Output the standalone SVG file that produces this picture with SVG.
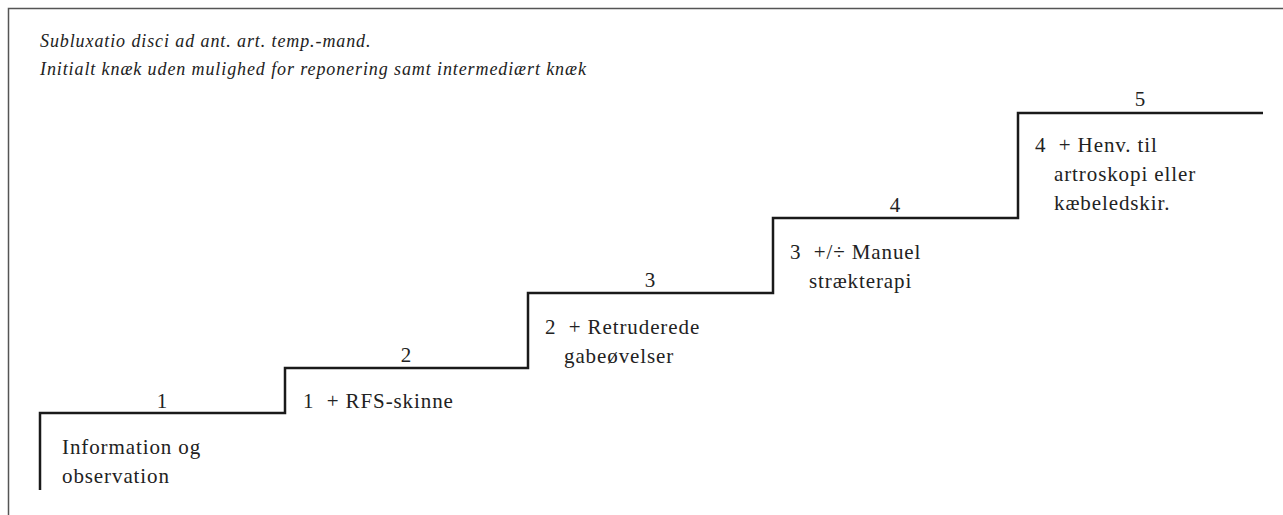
<svg xmlns="http://www.w3.org/2000/svg" width="1283" height="515" viewBox="0 0 1283 515">
<style>
.t{font-family:"Liberation Serif","Times New Roman",serif;font-size:21px;fill:#222;letter-spacing:0.9px;white-space:pre}
.h{font-family:"Liberation Serif","Times New Roman",serif;font-size:18px;font-style:italic;fill:#222;letter-spacing:0.9px}
.n{text-anchor:middle;letter-spacing:0}
.stair{fill:none;stroke:#1a1a1a;stroke-width:2.5}
.frame{fill:none;stroke:#555;stroke-width:1.5}
</style>
<rect width="1283" height="515" fill="#fff"/>
<path class="frame" d="M8.5 515 V8.5 H1283"/>
<g id="header">
<text class="h" x="40" y="47">Subluxatio disci ad ant. art. temp.-mand.</text>
<text class="h" x="40" y="75">Initialt knæk uden mulighed for reponering samt intermediært knæk</text>
</g>
<g id="connectors">
<path class="stair" d="M40 490 V413 H285 V368 H528 V293 H773 V218 H1018 V113 H1263"/>
</g>
<g id="step1">
<text class="t n" x="162" y="408">1</text>
<text class="t" x="62" y="454">Information og</text>
<text class="t" x="62" y="483">observation</text>
</g>
<g id="step2">
<text class="t n" x="406" y="362">2</text>
<text class="t" x="303" y="408" xml:space="preserve">1  + RFS-skinne</text>
</g>
<g id="step3">
<text class="t n" x="650" y="287">3</text>
<text class="t" x="545" y="334" xml:space="preserve">2  + Retruderede</text>
<text class="t" x="564" y="363">gabeøvelser</text>
</g>
<g id="step4">
<text class="t n" x="895" y="212">4</text>
<text class="t" x="790" y="259" xml:space="preserve">3  +/÷ Manuel</text>
<text class="t" x="809" y="288">strækterapi</text>
</g>
<g id="step5">
<text class="t n" x="1140" y="106">5</text>
<text class="t" x="1035" y="152" xml:space="preserve">4  + Henv. til</text>
<text class="t" x="1054" y="181">artroskopi eller</text>
<text class="t" x="1054" y="210">kæbeledskir.</text>
</g>
</svg>
